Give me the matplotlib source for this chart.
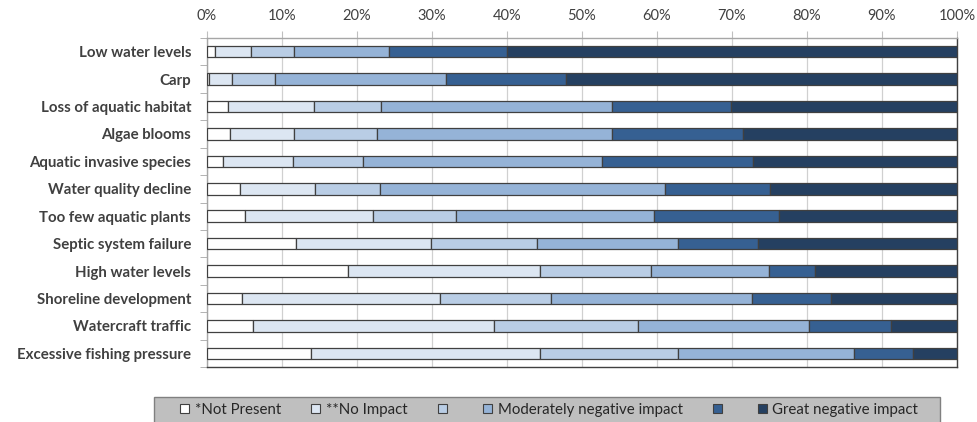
import matplotlib
matplotlib.use("Agg")
import matplotlib.pyplot as plt
from matplotlib.patches import Rectangle, Patch
import numpy as np

plt.rcParams['font.family'] = ['Lato', 'DejaVu Sans']

categories = ["Low water levels", "Carp", "Loss of aquatic habitat", "Algae blooms",
              "Aquatic invasive species", "Water quality decline", "Too few aquatic plants",
              "Septic system failure", "High water levels", "Shoreline development",
              "Watercraft traffic", "Excessive fishing pressure"]

series_labels = ["*Not Present", "**No Impact", "", "Moderately negative impact", "",
                 "Great negative impact"]

not_present = [1.1, 0.2, 2.8, 3.0, 2.1, 4.4, 5.0, 11.8, 18.8, 4.6, 6.1, 13.8]
no_impact = [4.7, 3.1, 11.4, 8.6, 9.4, 10.0, 17.1, 18.1, 25.6, 26.4, 32.1, 30.6]
slight = [5.8, 5.8, 9.0, 11.0, 9.3, 8.7, 11.1, 14.1, 14.8, 14.8, 19.2, 18.4]
moderate = [12.7, 22.8, 30.8, 31.4, 31.8, 38.0, 26.4, 18.8, 15.7, 26.9, 22.8, 23.5]
strong = [15.7, 16.0, 15.9, 17.4, 20.2, 14.0, 16.7, 10.7, 6.2, 10.5, 11.0, 7.8]
great = [60.0, 52.1, 30.1, 28.6, 27.2, 24.9, 23.7, 26.5, 18.9, 16.8, 8.8, 5.9]

xticks = [0, 10, 20, 30, 40, 50, 60, 70, 80, 90, 100]
xtick_labels = [f"{v}%" for v in xticks]

colors = ["#ffffff", "#dce6f2", "#b9cde5", "#95b3d7", "#366092", "#254061"]

series = [not_present, no_impact, slight, moderate, strong, great]

fig = plt.figure(figsize=(9.77, 4.22), dpi=100)
ax = fig.add_axes([207/977, 1-367/422, 750/977, (367-38)/422])

y = np.arange(len(categories))
left = np.zeros(len(categories))
for vals, col in zip(series, colors):
    vals = np.array(vals)
    ax.barh(y, vals, left=left, height=0.42, color=col, edgecolor="#404040",
            linewidth=0.9, zorder=3)
    left += vals

ax.set_xlim(0, 100)
ax.set_ylim(len(categories) - 0.5, -0.5)
ax.xaxis.tick_top()
ax.set_xticks(xticks)
ax.set_xticklabels(xtick_labels)
ax.tick_params(axis='x', which='major', length=5, color="#bfbfbf", labelsize=10.5,
               labelcolor="#404040", pad=6)
ax.set_yticks(y)
ax.set_yticklabels(categories, fontweight='bold', fontsize=10.8, color="#404040")
ax.set_yticks(np.arange(len(categories) + 1) - 0.5, minor=True)
ax.tick_params(axis='y', which='major', length=0, pad=11.5)
ax.tick_params(axis='y', which='minor', length=5, color="#a6a6a6")
ax.grid(axis='x', color="#d0d0d0", linewidth=0.9, zorder=0)
ax.set_axisbelow(True)

ax.spines['top'].set_color("#a6a6a6")
ax.spines['left'].set_color("#a6a6a6")
ax.spines['right'].set_color("#404040")
ax.spines['bottom'].set_color("#404040")
for s in ax.spines.values():
    s.set_linewidth(1.0)

# legend background box
fig.patches.append(Rectangle((154/977, -0.05), (940-154)/977, 0.05 + (422-397)/422,
                             transform=fig.transFigure, facecolor="#bfbfbf",
                             edgecolor="#808080", linewidth=1.0))

handles = [Patch(facecolor=c, edgecolor="#404040", linewidth=0.8) for c in colors]
fig.legend(handles, series_labels, loc='center', bbox_to_anchor=(549/977, 1-410/422),
           ncol=6, frameon=False, fontsize=10.8, handlelength=0.6, handleheight=0.6,
           handletextpad=0.4, columnspacing=2.0, borderpad=0,
           labelcolor="#262626")

fig.savefig("out.png", dpi=100)
